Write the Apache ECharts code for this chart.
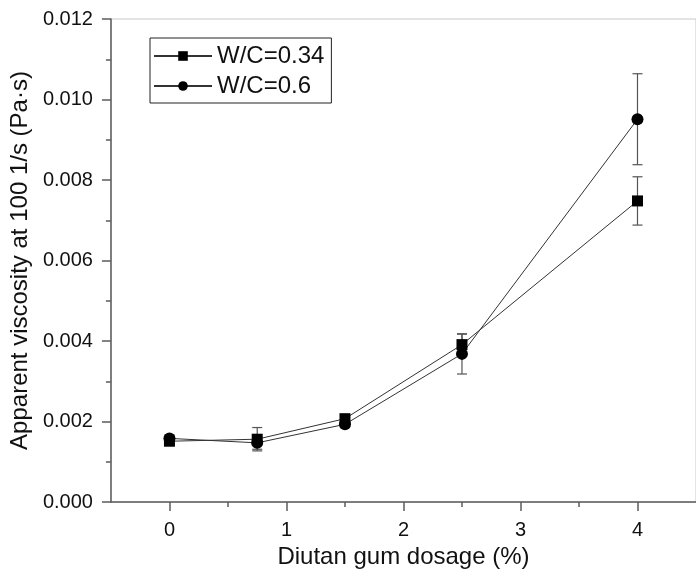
<!DOCTYPE html>
<html>
<head>
<meta charset="utf-8">
<script src="https://cdn.jsdelivr.net/npm/echarts@6/dist/echarts.min.js"></script>
<style>
  html, body { margin: 0; padding: 0; background: #fff; }
  #chart { width: 696px; height: 582px; }
</style>
</head>
<body>
<div id="chart"></div>
<script>
// Diutan gum dosage (%) at which the apparent viscosity was measured
const dosage = [0, 0.75, 1.5, 2.5, 4];

// Apparent viscosity at 100 1/s (Pa·s), mean and standard deviation
const viscWC034 = [0.00151, 0.00156, 0.00207, 0.00391, 0.00748];
const errWC034  = [0.00008, 0.00029, 0.00008, 0.00026, 0.00060];
const viscWC06  = [0.00158, 0.00147, 0.00193, 0.00368, 0.00951];
const errWC06   = [0.00008, 0.00016, 0.00008, 0.00050, 0.00113];

const xLabelValues = [0, 1, 2, 3, 4];
const xMinorValues = [0.5, 1.5, 2.5, 3.5];
const seriesNames = ['W/C=0.34', 'W/C=0.6'];

const FONT = "'Liberation Sans', Arial, sans-serif";
const AXIS_COLOR = '#5c5c5c';

function pairs(xs, ys) { return xs.map((x, i) => [x, ys[i]]); }
function bars(xs, ys, es) { return xs.map((x, i) => [x, ys[i] - es[i], ys[i] + es[i]]); }

function errorBarItem(params, api) {
  const x = api.value(0);
  const top = api.coord([x, api.value(2)]);
  const bot = api.coord([x, api.value(1)]);
  const half = 5;
  const style = { stroke: '#555', lineWidth: 1.2 };
  return {
    type: 'group',
    children: [
      { type: 'line', shape: { x1: top[0], y1: top[1], x2: bot[0], y2: bot[1] }, style },
      { type: 'line', shape: { x1: top[0] - half, y1: top[1], x2: top[0] + half, y2: top[1] }, style },
      { type: 'line', shape: { x1: bot[0] - half, y1: bot[1], x2: bot[0] + half, y2: bot[1] }, style }
    ]
  };
}

const chart = echarts.init(document.getElementById('chart'), null, { renderer: 'canvas' });

chart.setOption({
  animation: false,
  backgroundColor: '#fff',
  textStyle: { fontFamily: FONT },
  grid: {
    left: 109, right: -12, top: 19, bottom: 80,
    show: true, borderColor: '#c8c8c8', borderWidth: 1,
    backgroundColor: 'transparent'
  },
  legend: {
    data: seriesNames,
    orient: 'vertical',
    left: 150, top: 38,
    padding: [5, 7, 4, 3],
    itemGap: 4,
    itemWidth: 58,
    itemHeight: 12,
    borderColor: '#222',
    borderWidth: 1,
    textStyle: { fontFamily: FONT, fontSize: 24, color: '#111', lineHeight: 26 }
  },
  xAxis: [
    {
      type: 'value', min: -0.5, max: 4.5, position: 'bottom',
      name: 'Diutan gum dosage (%)',
      nameLocation: 'middle', nameGap: 42,
      nameTextStyle: { fontFamily: FONT, fontSize: 24, color: '#111' },
      axisLine: { show: true, onZero: false, lineStyle: { color: AXIS_COLOR, width: 1.5 } },
      axisTick: { show: true, length: 9, customValues: xLabelValues, lineStyle: { color: AXIS_COLOR, width: 1.5 } },
      axisLabel: { customValues: xLabelValues, margin: 18, fontFamily: FONT, fontSize: 20, color: '#111' },
      splitLine: { show: false }
    },
    {
      type: 'value', min: -0.5, max: 4.5, position: 'bottom',
      axisLine: { show: false, onZero: false },
      axisTick: { show: true, length: 5, customValues: xMinorValues, lineStyle: { color: AXIS_COLOR, width: 1.5 } },
      axisLabel: { show: false },
      splitLine: { show: false }
    }
  ],
  yAxis: {
    type: 'value', min: 0, max: 0.012, interval: 0.002, position: 'left',
    name: 'Apparent viscosity at 100 1/s (Pa·s)',
    nameLocation: 'middle', nameGap: 68,
    nameTextStyle: { fontFamily: FONT, fontSize: 24, color: '#111' },
    axisLine: { show: true, onZero: false, lineStyle: { color: AXIS_COLOR, width: 1.5 } },
    axisTick: { show: true, length: 9, lineStyle: { color: AXIS_COLOR, width: 1.5 } },
    minorTick: { show: true, splitNumber: 2, length: 5, lineStyle: { color: AXIS_COLOR, width: 1.5 } },
    axisLabel: {
      margin: 18, fontFamily: FONT, fontSize: 20, color: '#111',
      formatter: v => v.toFixed(3)
    },
    splitLine: { show: false }
  },
  series: [
    {
      name: 'err034', type: 'custom', xAxisIndex: 0, yAxisIndex: 0,
      renderItem: errorBarItem, encode: { x: 0, y: [1, 2] },
      data: bars(dosage, viscWC034, errWC034), z: 1, silent: true
    },
    {
      name: 'err06', type: 'custom', xAxisIndex: 0, yAxisIndex: 0,
      renderItem: errorBarItem, encode: { x: 0, y: [1, 2] },
      data: bars(dosage, viscWC06, errWC06), z: 1, silent: true
    },
    {
      name: seriesNames[0], type: 'line', xAxisIndex: 0, yAxisIndex: 0,
      data: pairs(dosage, viscWC034),
      symbol: 'rect', symbolSize: 11,
      lineStyle: { color: '#333', width: 1 },
      itemStyle: { color: '#000', borderWidth: 0 },
      z: 3
    },
    {
      name: seriesNames[1], type: 'line', xAxisIndex: 0, yAxisIndex: 0,
      data: pairs(dosage, viscWC06),
      symbol: 'circle', symbolSize: 12,
      lineStyle: { color: '#333', width: 1 },
      itemStyle: { color: '#000', borderWidth: 0 },
      z: 3
    }
  ]
});
</script>
</body>
</html>
